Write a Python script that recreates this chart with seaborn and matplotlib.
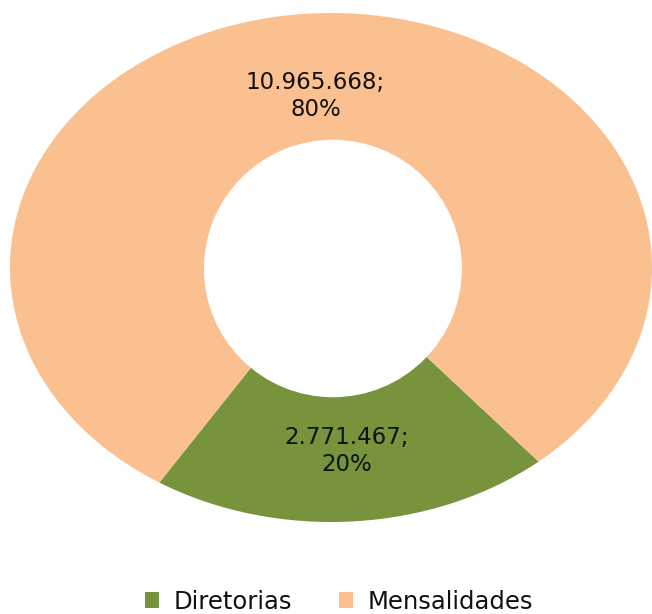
import matplotlib
matplotlib.use("Agg")
import matplotlib.pyplot as plt
from matplotlib.patches import Ellipse
import matplotlib.transforms as mtransforms
import seaborn as sns

categories = ["Diretorias", "Mensalidades"]
values = [2771467, 10965668]
colors = ["#77933C", "#FAC090"]

sns.set_theme(style="white")
plt.rcParams['font.family'] = ['DejaVu Sans']

fig = plt.figure(figsize=(6.52, 6.14), dpi=100)
ax = fig.add_axes([10/652, 1-522/614, 642/652, 509/614])

it = iter(values)

def fmt(pct):
    v = next(it)
    s = f"{v:,}".replace(",", ".")
    return f"{s};\n{round(pct):.0f}%"

wedges, texts, autotexts = ax.pie(
    values, colors=colors, startangle=-49.7, counterclock=False,
    autopct=fmt, pctdistance=0.70, radius=1.0,
    textprops=dict(fontsize=16.5, color="#111111", linespacing=1.25),
    wedgeprops=dict(linewidth=0),
)
shift = mtransforms.ScaledTranslation(0, -6/100, fig.dpi_scale_trans)
for t in autotexts:
    t.set_ha("center")
    t.set_multialignment("center")
    t.set_transform(t.get_transform() + shift)

# circular hole in pixel space (axes stretched)
ax.add_patch(Ellipse((0.006, -0.004), 2*129/321, 2*129/255, facecolor="white", edgecolor="none", zorder=5))

ax.set_aspect("auto")
ax.set_xlim(-1, 1)
ax.set_ylim(-1, 1)
ax.axis("off")

leg = fig.legend(wedges, categories, loc="lower center", bbox_to_anchor=(0.52, -0.035),
           ncol=2, frameon=False, fontsize=17.5, handlelength=0.6, handleheight=0.6,
           columnspacing=1.9, handletextpad=0.6)
for t in leg.get_texts():
    t.set_color("#111111")

fig.savefig("out.png", dpi=100, facecolor="white")
